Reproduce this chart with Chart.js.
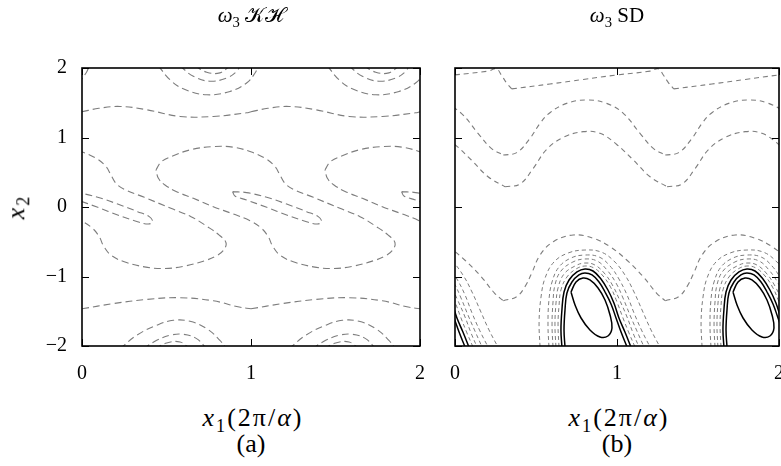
<!DOCTYPE html>
<html>
<head>
<meta charset="utf-8">
<script src="https://cdn.jsdelivr.net/npm/chart.js@4.4.1/dist/chart.umd.min.js"></script>
<style>
  body { margin: 0; background: #fff; }
  #page { position: relative; width: 781px; height: 466px; overflow: hidden; background: #fff;
          font-family: 'Liberation Serif', 'DejaVu Serif', serif; color: #000; }
  canvas { position: absolute; top: 0; }
  .txt { position: absolute; transform: translate(-50%, -50%); white-space: nowrap; font-size: 21px; }
  .lbl { font-size: 26px; letter-spacing: 2px; }
  .txt sub { font-size: 70%; vertical-align: -0.3em; font-style: normal; }
  i { font-style: italic; }
</style>
</head>
<body>
<div id="page">
  <canvas id="chartKH" width="440" height="400" style="left:0"></canvas>
  <canvas id="chartSD" width="341" height="400" style="left:440px"></canvas>

  <div class="txt" style="left:251px; top:17px"><i>ω</i><sub>3</sub> 𝒦ℋ</div>
  <div class="txt" style="left:617px; top:17px"><i>ω</i><sub>3</sub> SD</div>
  <div class="txt lbl" style="left:18px; top:207px; transform: translate(-50%,-50%) rotate(-90deg)"><i>x</i><sub>2</sub></div>
  <div class="txt lbl" style="left:253px; top:420px"><i>x</i><sub>1</sub>(2π/<i>α</i>)</div>
  <div class="txt lbl" style="left:619px; top:420px"><i>x</i><sub>1</sub>(2π/<i>α</i>)</div>
  <div class="txt lbl" style="left:251px; top:444px; letter-spacing:0">(a)</div>
  <div class="txt lbl" style="left:617px; top:444px; letter-spacing:0">(b)</div>
</div>

<script>
// axis ticks
const xTicks = [0, 1, 2];
const yTicks = [-2, -1, 0, 1, 2];
// field is periodic in x1 with period 1, each contour is given over one period
const periods = [-1, 0, 1];

// ---- (a) KH contours, [x1, x2]
const khTopOuter = [[0.452,2.03],[0.521,1.83],[0.599,1.70],[0.738,1.615],[0.876,1.663],[0.974,1.784],[1.024,1.928],[1.043,2.03]];
const khTopMid = [[0.580,2.03],[0.659,1.88],[0.757,1.81],[0.856,1.856],[0.915,1.95],[0.935,2.03]];
const khTopInner = [[0.668,2.03],[0.738,1.94],[0.816,1.93],[0.876,2.03]];
const khUpperWave = [[0,1.37],[0.1,1.42],[0.225,1.447],[0.382,1.40],[0.58,1.303],[0.777,1.303],[0.974,1.355],[1.0,1.37]];
const khLowerWave = [[0,-1.465],[0.185,-1.39],[0.382,-1.33],[0.58,-1.305],[0.777,-1.35],[0.93,-1.44],[1.0,-1.465]];
const khBotOuter = [[0.225,-2.04],[0.323,-1.846],[0.442,-1.702],[0.540,-1.63],[0.639,-1.644],[0.738,-1.75],[0.816,-1.918],[0.856,-2.04]];
const khBotMid = [[0.363,-2.04],[0.442,-1.918],[0.521,-1.846],[0.599,-1.832],[0.678,-1.894],[0.738,-2.04]];
const khBotInner = [[0.432,-2.04],[0.501,-1.957],[0.580,-1.942],[0.639,-2.04]];
const khBigS = [[0.438,0.534],[0.471,0.654],[0.540,0.736],[0.639,0.822],[0.777,0.870],[0.895,0.861],[0.994,0.798],
  [1.083,0.702],[1.142,0.582],[1.171,0.462],[1.201,0.341],[1.250,0.255],[1.369,0.139],[1.526,-0.019],[1.645,-0.139],
  [1.743,-0.284],[1.812,-0.404],[1.852,-0.514],[1.838,-0.620],[1.793,-0.707],[1.724,-0.774],[1.605,-0.851],[1.487,-0.885],
  [1.369,-0.861],[1.250,-0.788],[1.171,-0.692],[1.128,-0.562],[1.102,-0.428],[1.063,-0.308],[0.994,-0.197],[0.895,-0.101],
  [0.777,0.005],[0.659,0.125],[0.560,0.221],[0.491,0.317],[0.452,0.413],[0.438,0.534]];
const khThinLoop = [[0.891,0.221],[0.974,0.207],[1.093,0.139],[1.211,0.043],[1.329,-0.067],[1.398,-0.139],[1.418,-0.212],
  [1.392,-0.245],[1.329,-0.212],[1.211,-0.115],[1.093,-0.005],[0.974,0.101],[0.905,0.159],[0.891,0.221]];

// ---- (b) SD contours, [x1, x2]
const sdTop = [[0.35,1.70],[0.586,1.77],[0.792,1.835],[0.998,1.90],[1.204,1.955],[1.255,1.99],[1.286,1.90],[1.317,1.79],[1.35,1.70]];
const sdUpperWave = [[0.298,0.748],[0.381,0.782],[0.463,0.988],[0.525,1.204],[0.586,1.357],[0.689,1.491],[0.813,1.540],
  [0.936,1.491],[1.039,1.348],[1.142,1.06],[1.224,0.844],[1.298,0.748]];
const sdLowerWave = [[0.309,0.292],[0.401,0.331],[0.483,0.556],[0.566,0.83],[0.669,1.002],[0.792,1.084],[0.895,1.06],
  [0.998,0.90],[1.101,0.676],[1.204,0.436],[1.309,0.292]];
const sdBigWave = [[0.298,-1.348],[0.381,-1.29],[0.432,-1.146],[0.473,-0.955],[0.525,-0.691],[0.607,-0.499],[0.730,-0.403],
  [0.854,-0.451],[0.957,-0.571],[1.060,-0.763],[1.162,-1.003],[1.245,-1.242],[1.298,-1.348]];
const sdRing0 = [[0.525,-2.014],[0.519,-1.655],[0.531,-1.295],[0.556,-1.022],[0.611,-0.791],[0.698,-0.662],[0.802,-0.619],
  [0.901,-0.647],[0.981,-0.777],[1.049,-0.978],[1.105,-1.223],[1.160,-1.511],[1.210,-1.770],[1.265,-2.014]];
const sdRing1 = [[0.580,-2.014],[0.574,-1.698],[0.580,-1.338],[0.599,-1.079],[0.642,-0.863],[0.716,-0.734],[0.802,-0.691],
  [0.889,-0.719],[0.957,-0.849],[1.012,-1.036],[1.062,-1.266],[1.105,-1.525],[1.154,-1.784],[1.204,-2.014]];
const sdRing2 = [[0.605,-2.014],[0.599,-1.698],[0.605,-1.367],[0.617,-1.122],[0.654,-0.921],[0.728,-0.791],[0.802,-0.748],
  [0.877,-0.777],[0.938,-0.906],[0.994,-1.094],[1.037,-1.309],[1.080,-1.554],[1.123,-1.784],[1.167,-2.014]];
const sdRing3 = [[0.623,-2.014],[0.617,-1.698],[0.623,-1.396],[0.636,-1.165],[0.673,-0.964],[0.741,-0.849],[0.802,-0.806],
  [0.864,-0.835],[0.926,-0.964],[0.975,-1.137],[1.019,-1.353],[1.062,-1.583],[1.099,-1.813],[1.136,-2.014]];
const sdRing4 = [[0.642,-2.014],[0.636,-1.698],[0.642,-1.424],[0.654,-1.194],[0.691,-1.007],[0.747,-0.892],[0.802,-0.849],
  [0.858,-0.878],[0.914,-0.993],[0.963,-1.165],[1.0,-1.367],[1.037,-1.597],[1.074,-1.813],[1.111,-2.014]];
const sdSolidOuter = [[0.660,-2.014],[0.654,-1.770],[0.660,-1.482],[0.673,-1.223],[0.704,-1.050],[0.753,-0.935],[0.802,-0.892],
  [0.852,-0.921],[0.901,-1.036],[0.944,-1.194],[0.981,-1.381],[1.012,-1.597],[1.049,-1.799],[1.086,-2.014]];
const sdSolidInner = [[0.679,-2.014],[0.673,-1.770],[0.679,-1.482],[0.691,-1.237],[0.722,-1.079],[0.765,-0.978],[0.802,-0.950],
  [0.846,-0.978],[0.889,-1.079],[0.926,-1.223],[0.963,-1.396],[0.994,-1.597],[1.025,-1.799],[1.062,-2.014]];
const sdCore = [[0.716,-1.223],[0.747,-1.079],[0.790,-1.022],[0.833,-1.050],[0.883,-1.165],[0.926,-1.338],[0.957,-1.554],
  [0.969,-1.741],[0.944,-1.856],[0.895,-1.871],[0.833,-1.770],[0.778,-1.597],[0.741,-1.410],[0.716,-1.223]];

const khDashed = [khTopOuter, khTopMid, khTopInner, khUpperWave, khLowerWave, khBotOuter, khBotMid, khBotInner, khBigS, khThinLoop];
const sdDashed = [sdTop, sdUpperWave, sdLowerWave, sdBigWave];
const sdRings = [sdRing0, sdRing1, sdRing2, sdRing3, sdRing4];
const sdSolid = [sdSolidOuter, sdSolidInner, sdCore];

const GREY = '#7d7d7d';

function contourSets(list, style) {
  const out = [];
  list.forEach(pts => {
    periods.forEach(s => {
      out.push(Object.assign({
        data: pts.map(p => ({ x: p[0] + s, y: p[1] })),
        showLine: true,
        pointRadius: 0,
        fill: false,
        tension: 0.4
      }, style));
    });
  });
  return out;
}

// frame and inward tick marks on all four sides
const framePlugin = {
  id: 'frame',
  afterDatasetsDraw(chart) {
    const ctx = chart.ctx, a = chart.chartArea;
    const xs = chart.scales.x, ys = chart.scales.y;
    const len = 7;
    ctx.save();
    ctx.strokeStyle = '#000';
    ctx.lineWidth = 1;
    ctx.beginPath();
    xTicks.forEach(v => {
      const p = Math.round(xs.getPixelForValue(v)) + 0.5;
      ctx.moveTo(p, a.bottom); ctx.lineTo(p, a.bottom - len);
      ctx.moveTo(p, a.top); ctx.lineTo(p, a.top + len);
    });
    yTicks.forEach(v => {
      const p = Math.round(ys.getPixelForValue(v)) + 0.5;
      ctx.moveTo(a.left, p); ctx.lineTo(a.left + len, p);
      ctx.moveTo(a.right, p); ctx.lineTo(a.right - len, p);
    });
    ctx.stroke();
    ctx.lineWidth = 1.6;
    ctx.strokeRect(a.left, a.top, a.right - a.left, a.bottom - a.top);
    ctx.restore();
  }
};

function makeChart(id, datasets, yWidth, rightPad, showY) {
  return new Chart(document.getElementById(id), {
    type: 'scatter',
    data: { datasets: datasets },
    options: {
      responsive: false,
      animation: false,
      events: [],
      layout: { padding: { top: 68, right: rightPad, left: 0, bottom: 0 } },
      plugins: { legend: { display: false }, tooltip: { enabled: false } },
      scales: {
        x: {
          type: 'linear', min: 0, max: 2,
          grid: { display: false, drawTicks: false },
          border: { display: false },
          afterBuildTicks: s => { s.ticks = xTicks.map(v => ({ value: v })); },
          afterFit: s => { s.height = 54; s.paddingLeft = 0; s.paddingRight = 0; },
          ticks: { padding: 16, color: '#000', maxRotation: 0, autoSkip: false,
                   font: { family: "'Liberation Serif', 'DejaVu Serif', serif", size: 20 } }
        },
        y: {
          type: 'linear', min: -2, max: 2,
          grid: { display: false, drawTicks: false },
          border: { display: false },
          afterBuildTicks: s => { s.ticks = yTicks.map(v => ({ value: v })); },
          afterFit: s => { s.width = yWidth; s.paddingTop = 0; s.paddingBottom = 0; },
          ticks: { display: showY, padding: 15, color: '#000', autoSkip: false,
                   callback: v => (v < 0 ? '\u2212' + Math.abs(v) : String(v)),
                   font: { family: "'Liberation Serif', 'DejaVu Serif', serif", size: 20 } }
        }
      }
    },
    plugins: [framePlugin]
  });
}

const khSets = contourSets(khDashed, { borderColor: GREY, borderWidth: 1.1, borderDash: [7, 4] });
const sdSets = contourSets(sdDashed, { borderColor: GREY, borderWidth: 1.1, borderDash: [5, 4] })
  .concat(contourSets(sdRings, { borderColor: GREY, borderWidth: 1, borderDash: [4, 3] }))
  .concat(contourSets(sdSolid, { borderColor: '#000', borderWidth: 1.5, borderDash: [] }));

makeChart('chartKH', khSets, 82, 20, true);
makeChart('chartSD', sdSets, 15, 2, false);
</script>
</body>
</html>
